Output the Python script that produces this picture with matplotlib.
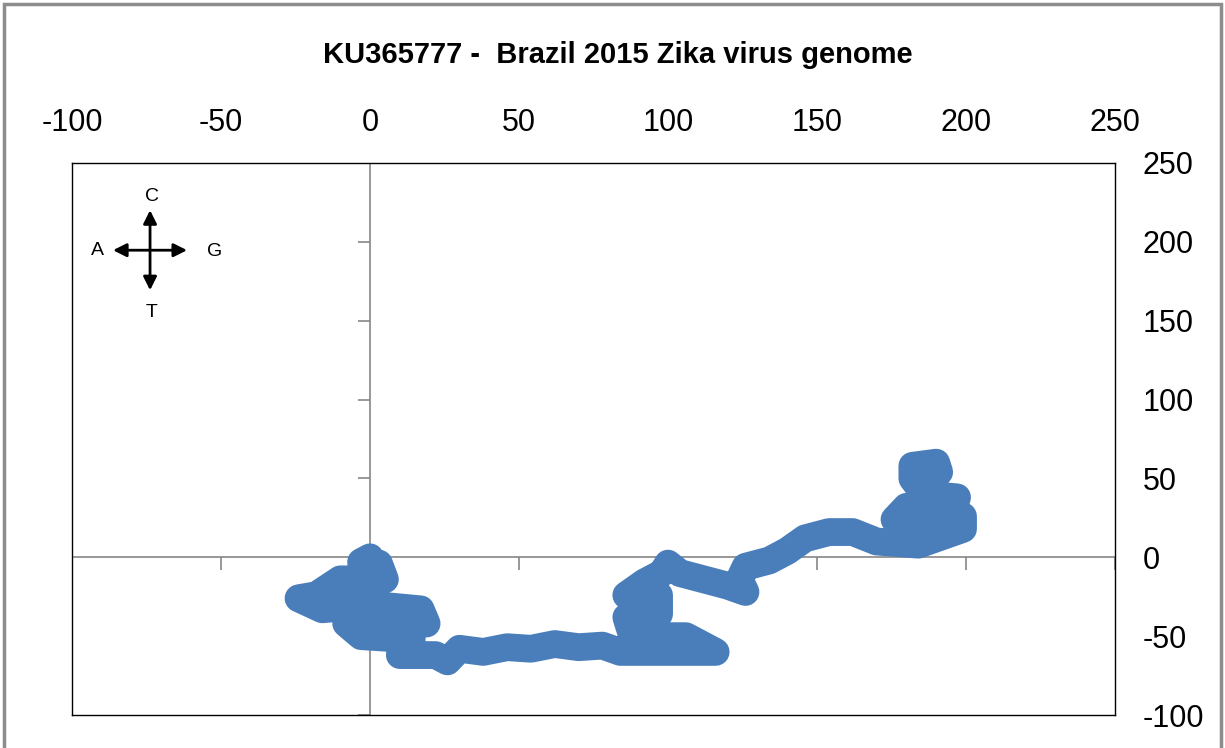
import matplotlib.pyplot as plt
from matplotlib.patches import Rectangle

# DNA walk of KU365777, centre line of the path (x = G-A, y = C-T)
walk_x = [0, -3, 3, 5, -10, -18, -24, -16, 0, 17, 19, 4, -8, -3, 14, 10, 22, 26,
          30, 38, 46, 54, 62, 70, 78, 84,
          100, 116, 106, 88, 86, 97, 97, 86, 92, 98, 100,
          104, 112, 120, 126, 124, 126, 134, 140, 146, 154, 162,
          170, 184, 199, 199, 176, 180, 196, 197, 186, 182, 182, 190, 191]
walk_y = [0, -3, -4, -14, -14, -24, -26, -33, -30, -33, -42, -40, -42, -50, -52, -62, -62, -66,
          -58, -60, -57, -58, -55, -57, -56, -60,
          -60, -60, -50, -50, -38, -36, -24, -24, -16, -10, -4,
          -10, -14, -18, -22, -14, -6, -2, 4, 12, 16, 16,
          10, 8, 18, 26, 24, 32, 32, 38, 40, 50, 58, 60, 54]

ticks = [-100, -50, 0, 50, 100, 150, 200, 250]
title = 'KU365777 -  Brazil 2015 Zika virus genome'

plt.rcParams['font.family'] = ['Liberation Sans', 'DejaVu Sans']
plt.rcParams['axes.unicode_minus'] = False

fig = plt.figure(figsize=(12.25, 7.48), dpi=100)
ax = fig.add_axes([0.0588, 0.0441, 0.8514, 0.7380])
ax.set_xlim(-100, 250)
ax.set_ylim(-100, 250)

# box
for s in ax.spines.values():
    s.set_color('black')
    s.set_linewidth(1.0)

ax.set_xticks(ticks)
ax.set_yticks(ticks)
ax.xaxis.tick_top()
ax.yaxis.tick_right()
ax.tick_params(axis='x', length=0, pad=18, labelsize=22)
ax.tick_params(axis='y', length=0, pad=20, labelsize=22)

# axes crossing at the origin
ax.axhline(0, color='#868686', lw=1.2, zorder=1)
ax.axvline(0, color='#868686', lw=1.2, zorder=1)
ax.plot(ticks, [0] * len(ticks), ls='none', marker=3, ms=9, mew=1.2, color='#868686', zorder=1)
ax.plot([0] * len(ticks), ticks, ls='none', marker=0, ms=9, mew=1.2, color='#868686', zorder=1)

# the walk
ax.plot(walk_x, walk_y, color='#4A7EBB', lw=20,
        solid_joinstyle='round', solid_capstyle='round', zorder=3)

# compass
cx, cy = 0.0748, 0.842
arr = dict(arrowstyle='<|-|>', color='black', lw=2, mutation_scale=20, shrinkA=0, shrinkB=0)
ax.annotate('', xy=(cx - 0.0355, cy), xytext=(cx + 0.0355, cy), xycoords='axes fraction', arrowprops=arr)
ax.annotate('', xy=(cx, cy - 0.0725), xytext=(cx, cy + 0.0725), xycoords='axes fraction', arrowprops=arr)
ax.text(0.0767, 0.940, 'C', transform=ax.transAxes, ha='center', va='center', fontsize=14)
ax.text(0.024, 0.841, 'A', transform=ax.transAxes, ha='center', va='center', fontsize=14)
ax.text(0.137, 0.839, 'G', transform=ax.transAxes, ha='center', va='center', fontsize=14)
ax.text(0.0767, 0.730, 'T', transform=ax.transAxes, ha='center', va='center', fontsize=14)

fig.text(0.504, 0.927, title, ha='center', va='center', fontsize=21, fontweight='bold')

# outer chart frame
fig.patches.append(Rectangle((0.003, -0.01), 0.994, 1.005, transform=fig.transFigure,
                             fill=False, edgecolor='#8c8c8c', lw=2.5))

fig.savefig('out.png', dpi=100)
